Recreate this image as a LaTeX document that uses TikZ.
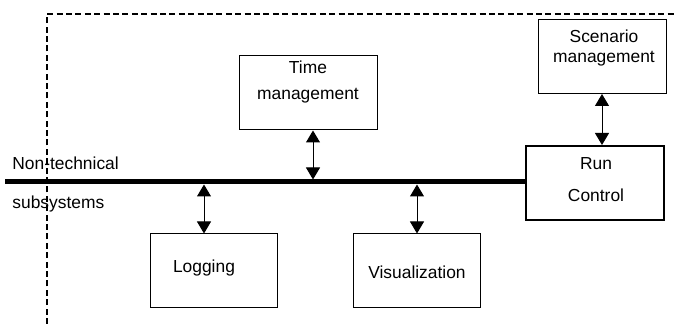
\documentclass[tikz,border=0pt]{standalone}
\usepackage{fontspec}
\setmainfont{Liberation Sans}
\usetikzlibrary{arrows.meta}

\begin{document}
\begin{tikzpicture}[x=.5pt,y=-.5pt,
    box/.style={draw,line width=.5pt,minimum height=37pt,inner sep=0pt},
    txt/.style={align=center,font=\fontsize{8.7}{10}\selectfont,inner sep=0pt},
    link/.style={{Triangle[width=7pt,length=6pt]}-{Triangle[width=7pt,length=6pt]},line width=.5pt}]
    \useasboundingbox (0,0) rectangle (674,324);
    % border of the simulation
    \draw[line width=.7pt,dash pattern=on 3pt off 1.7pt](47,324)--(47,14)--(674,14);
    % boxes
    \node[box,minimum width=69pt](time)at(308,93){};
    \node[box,minimum width=63.5pt](log)at(213.5,271){};
    \node[box,minimum width=63.5pt](vis)at(416.5,271){};
    \node[box,minimum width=64pt](scen)at(602,57){};
    \node[box,minimum width=69pt,line width=1pt](run)at(595,183){};
    \node[txt](time-txt)at(308,82){Time\\[3pt]management};
    \node[txt](log-txt)at(204,268){Logging};
    \node[txt](vis-txt)at(417,272){Visualization};
    \node[txt](scen-txt)at(604,48){Scenario\\management};
    \node[txt](run-txt)at(596,180){Run\\[6pt]Control};
    % bus
    \coordinate(bus)at(5,182);
    \draw[line width=2.5pt](bus)--(bus-|run.west);
    \node[txt,anchor=west](bus-top)at(12,163){Non-technical};
    \node[txt,anchor=west](bus-bot)at(12,204){subsystems};
    \coordinate(b-time)at(313,179.5);
    \coordinate(b-log)at(204,184.5);
    \coordinate(b-vis)at(417,184.5);
    \coordinate(b-scen)at(602,94);
    \draw[link](time.south-|b-time)--(b-time);
    \draw[link](b-log)--(b-log|-log.north);
    \draw[link](b-vis)--(b-vis|-vis.north);
    \draw[link](b-scen)--(b-scen|-run.north);
\end{tikzpicture}
\end{document}
